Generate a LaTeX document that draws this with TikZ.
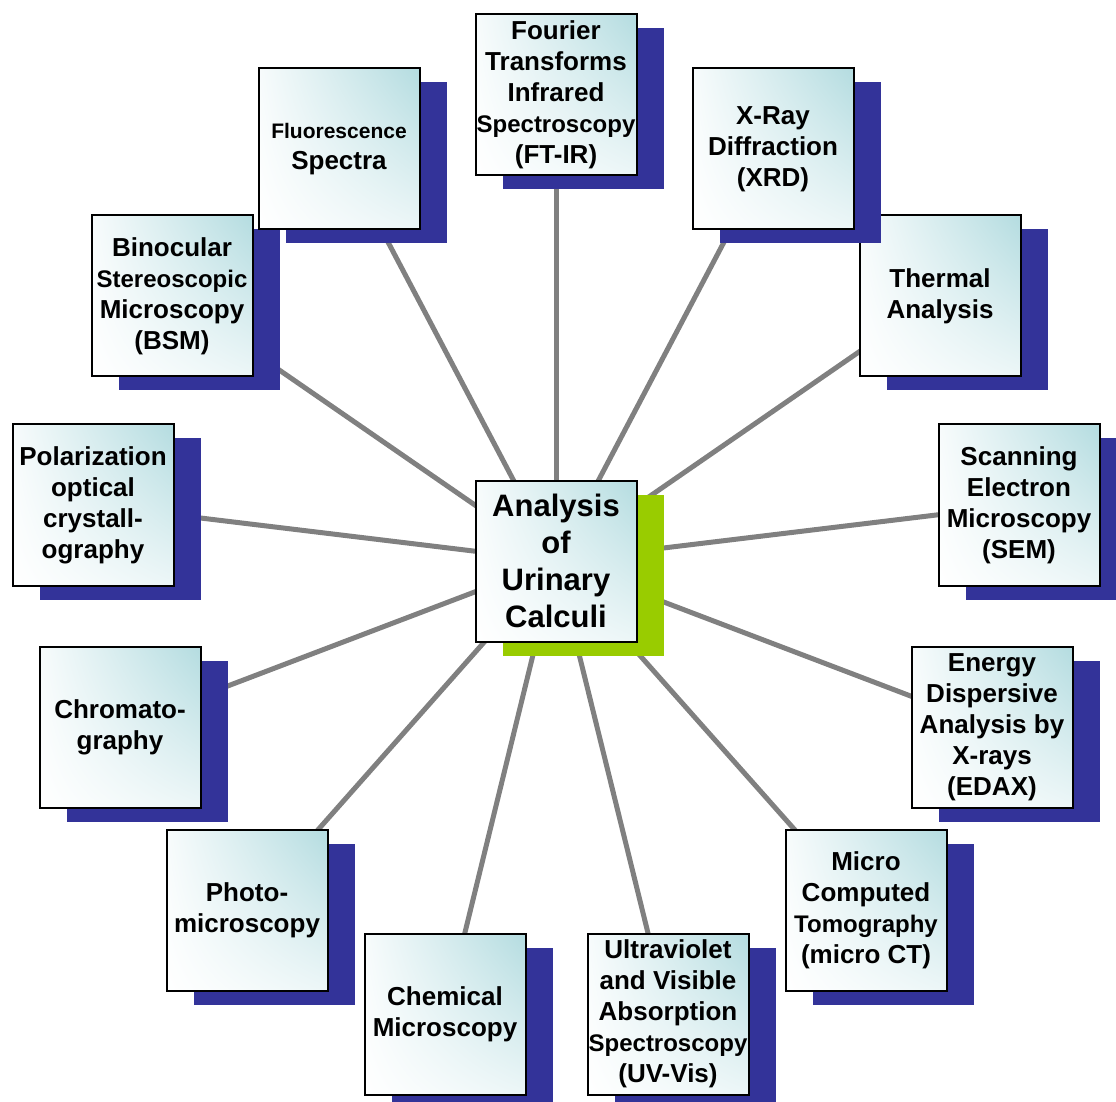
\documentclass[tikz,border=0pt]{standalone}
\usepackage{fontspec}
\setmainfont{Liberation Sans}
\usetikzlibrary{shadows,shadings,backgrounds}

\definecolor{boxteal}{HTML}{B4DCE0}
\definecolor{shadowblue}{HTML}{333399}
\definecolor{shadowgreen}{HTML}{99CC00}
\definecolor{linkgray}{HTML}{808080}

\newcommand{\smalltext}[1]{{\fontsize{12}{15.5}\selectfont #1}}
\newcommand{\tinytext}[1]{{\fontsize{10.5}{13.5}\selectfont #1}}

\begin{document}
\begin{tikzpicture}[x=0.5pt, y=-0.5pt,
  method/.style={draw=black, line width=1pt, minimum width=80.5pt, minimum height=80.5pt,
    inner sep=0pt, align=center, font=\fontsize{13}{15.5}\selectfont\bfseries,
    upper left=boxteal!10, upper right=boxteal, lower left=white, lower right=boxteal!25,
    general shadow={shadow xshift=13.5pt, shadow yshift=-7pt, fill=shadowblue}},
  topic/.style={method, font=\fontsize{15.5}{18.5}\selectfont\bfseries,
    general shadow={shadow xshift=13.5pt, shadow yshift=-7pt, fill=shadowgreen}},
  link/.style={linkgray, line width=2.5pt}]
\clip (0, 0) rectangle (1116, 1102);

\node[topic] (calculi) at (556, 561) {Analysis\\of\\Urinary\\Calculi};

\node[method] (ftir) at (556, 95) {Fourier\\Transforms\\Infrared\\\smalltext{Spectroscopy}\\(FT-IR)};
\node[method] (thermal) at (940, 296) {Thermal\\Analysis};
\node[method] (xrd) at (773, 149) {X-Ray\\Diffraction\\(XRD)};
\node[method] (sem) at (1019, 505) {Scanning\\Electron\\Microscopy\\(SEM)};
\node[method] (edax) at (992, 727) {Energy\\Dispersive\\Analysis by\\X-rays\\(EDAX)};
\node[method] (microct) at (866, 910) {Micro\\Computed\\\smalltext{Tomography}\\(micro CT)};
\node[method] (uvvis) at (668, 1014) {Ultraviolet\\and Visible\\Absorption\\\smalltext{Spectroscopy}\\(UV-Vis)};
\node[method] (chem) at (445, 1014) {Chemical\\Microscopy};
\node[method] (photo) at (247, 910) {Photo-\\microscopy};
\node[method] (chroma) at (120, 727) {Chromato-\\graphy};
\node[method] (polar) at (93, 505) {Polarization\\optical\\crystall-\\ography};
\node[method] (bsm) at (172, 296) {Binocular\\\smalltext{Stereoscopic}\\Microscopy\\(BSM)};
\node[method] (fluor) at (339, 149) {\tinytext{Fluorescence}\\Spectra};

\begin{scope}[on background layer]
\foreach \m in {ftir, xrd, thermal, sem, edax, microct, uvvis, chem, photo, chroma, polar, bsm, fluor}
  \draw[link] (calculi.center) -- (\m.center);
\end{scope}
\end{tikzpicture}
\end{document}
